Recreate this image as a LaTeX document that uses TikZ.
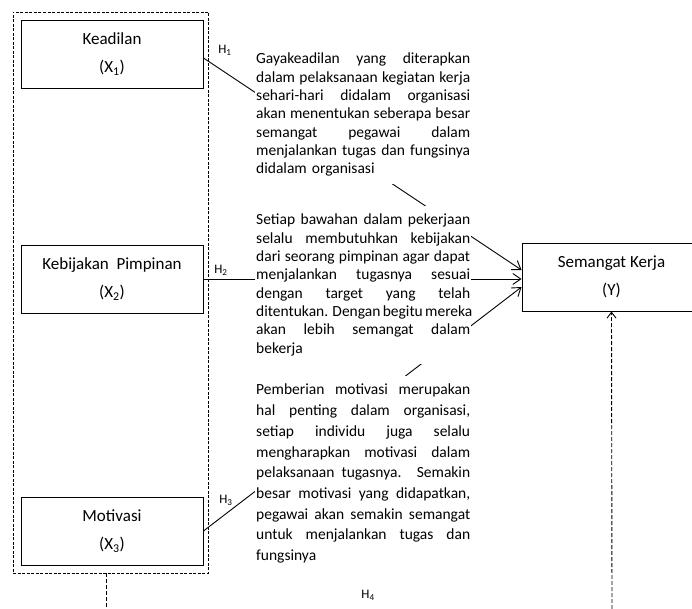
\documentclass[tikz,border=0pt]{standalone}
\usepackage{fontspec}
\setmainfont{Carlito}
\usetikzlibrary{arrows.meta}
\newcommand{\jl}[1]{\makebox[214pt][s]{\spaceskip=0pt\xspaceskip=0pt\relax #1}\\}
\tikzset{
  varbox/.style={draw, line width=0.9pt, minimum width=182pt, minimum height=68pt,
    align=center, font=\fontsize{17}{28}\selectfont},
  groupbox/.style={draw, line width=0.8pt, dash pattern=on 3pt off 1.5pt},
  desc/.style={anchor=north west, fill=white, inner xsep=1pt, inner ysep=8pt,
    text width=214pt, align=left, font=\fontsize{15.5}{18.3}\selectfont},
  hlabel/.style={font=\fontsize{13}{15}\selectfont},
  link/.style={line width=0.9pt, -{Straight Barb[length=8pt,width=11pt]}},
  dashline/.style={line width=0.9pt, dash pattern=on 4pt off 2pt},
}
\begin{document}
\begin{tikzpicture}[x=1pt, y=-1pt]
      \useasboundingbox (0,0) rectangle (692,609);

      \node[groupbox, minimum width=195pt, minimum height=561pt] (outer) at (110.5,292.5) {};
      \node[varbox, fill=white] (x1) at (112,54) {Keadilan\\(X\textsubscript{1})};
      \node[varbox, fill=white] (x2) at (112,279) {Kebijakan\ \ Pimpinan\\(X\textsubscript{2})};
      \node[varbox, fill=white] (x3) at (112,531) {Motivasi\\(X\textsubscript{3})};
      \node[varbox, minimum width=179pt] (y) at (611.5,277) {Semangat Kerja\\(Y)};

      \draw[link] ([yshift=-4pt]x1.east) -- ([yshift=7pt]y.west);
      \draw[link] (x2.east) -- (x2.east -| y.west);
      \draw[link] (x3.east) -- ([yshift=-10pt]y.west);

      \coordinate (b1) at (106,609);
      \coordinate (b2) at (612,609);
      \draw[dashline] (b1 |- outer.south) -- (b1);
      \draw[dashline, -{Straight Barb[length=6pt,width=9pt]}] (b2) -- (y.south);

      \node[hlabel] (h1) at (225,50) {H\textsubscript{1}};
      \node[hlabel] (h2) at (221,270) {H\textsubscript{2}};
      \node[hlabel] (h3) at (226,500) {H\textsubscript{3}};
      \node[hlabel] (h4) at (368,595) {H\textsubscript{4}};

      \node[desc] (d1) at (255,45) {%
        \jl{Gayakeadilan yang diterapkan}
        \jl{dalam pelaksanaan kegiatan kerja}
        \jl{sehari-hari didalam organisasi}
        \jl{akan menentukan seberapa besar}
        \jl{semangat pegawai dalam}
        \jl{menjalankan tugas dan fungsinya}
        didalam organisasi};
      \node[desc] (d2) at (255,206) {%
        \jl{Setiap bawahan dalam pekerjaan}
        \jl{selalu membutuhkan kebijakan}
        \jl{dari seorang pimpinan agar dapat}
        \jl{menjalankan tugasnya sesuai}
        \jl{dengan target yang telah}
        \jl{ditentukan. Dengan begitu mereka}
        \jl{akan lebih semangat dalam}
        bekerja};
      \node[desc, font=\fontsize{15.5}{20.7}\selectfont] (d3) at (255,376) {%
        \jl{Pemberian motivasi merupakan}
        \jl{hal penting dalam organisasi,}
        \jl{setiap individu juga selalu}
        \jl{mengharapkan motivasi dalam}
        \jl{pelaksanaan tugasnya. Semakin}
        \jl{besar motivasi yang didapatkan,}
        \jl{pegawai akan semakin semangat}
        \jl{untuk menjalankan tugas dan}
        fungsinya};
\end{tikzpicture}
\end{document}
